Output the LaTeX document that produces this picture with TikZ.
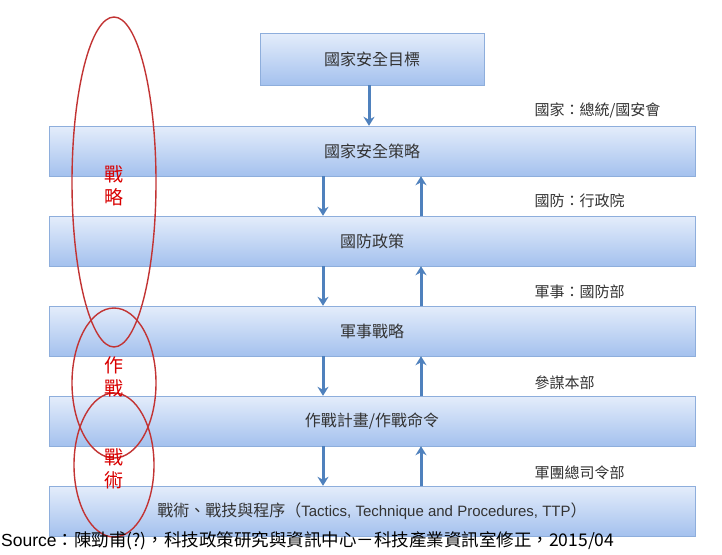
\documentclass[tikz,border=0pt]{standalone}
\usepackage{fontspec}
\usetikzlibrary{arrows.meta}
\setmainfont{Noto Sans CJK TC}
\newfontfamily\lat{Liberation Sans}
\definecolor{arrc}{HTML}{4F81BD}
\definecolor{topc}{HTML}{E4EDFB}
\definecolor{botc}{HTML}{A4C1EE}
\definecolor{brd}{HTML}{8EAEDC}
\begin{document}
\begin{tikzpicture}[x=1pt,y=-1pt,
  boxst/.style={draw=brd, top color=topc, bottom color=botc},
  arr/.style={draw=arrc, line width=3pt, -{Stealth[length=9pt,width=11pt]}},
  lab/.style={anchor=west, font=\fontsize{15}{16}\selectfont, text=black!80},
  red/.style={text=red!85!black, font=\fontsize{19}{22}\selectfont},
  ell/.style={draw=red!70!black!80, line width=1.4pt}]
\useasboundingbox (0,0) rectangle (722,554);
\fill[white] (0,0) rectangle (722,554);
\tikzset{bx/.style={boxst, font=\fontsize{16}{17}\selectfont, text=black!80}}
\node[bx, minimum width=224, minimum height=52] (t) at (372,59) {國家安全目標};
\node[bx, minimum width=646, minimum height=50] (b1) at (372,151) {國家安全策略};
\node[bx, minimum width=646, minimum height=50] (b2) at (372,241) {國防政策};
\node[bx, minimum width=646, minimum height=50] (b3) at (372,331) {軍事戰略};
\node[bx, minimum width=646, minimum height=50] (b4) at (372,421) {作戰計畫/作戰命令};
\node[bx, minimum width=646, minimum height=50] (b5) at (372,511) {戰術、戰技與程序（{\lat\fontsize{15}{16}\selectfont Tactics, Technique and Procedures, TTP}）};
\draw[arr] (t.south -| 369,0) -- (b1.north -| 369,0);
\foreach \a/\b in {b1/b2,b2/b3,b3/b4,b4/b5}{
  \draw[arr] (\a.south -| 323,0) -- (\b.north -| 323,0);
  \draw[arr] (\b.north -| 421,0) -- (\a.south -| 421,0);
}
\node[lab] (l1) at (531,110) {國家：總統/國安會};
\node[lab] (l2) at (531,201) {國防：行政院};
\node[lab] (l3) at (531,292) {軍事：國防部};
\node[lab] (l4) at (531,383) {參謀本部};
\node[lab] (l5) at (531,473) {軍團總司令部};
\draw[ell] (114,182) ellipse [x radius=42, y radius=165];
\draw[ell] (114,383) ellipse [x radius=42, y radius=75];
\draw[ell] (114,465) ellipse [x radius=40, y radius=72];
\node[red] (r1) at (114,186) {\shortstack{戰\\[2pt]略}};
\node[red] (r2) at (114,377) {\shortstack{作\\[2pt]戰}};
\node[red] (r3) at (114,469) {\shortstack{戰\\[2pt]術}};
\node[anchor=west, inner sep=1pt, font=\fontsize{17.5}{18}\selectfont] (src) at (0,541) {{\lat Source}：陳勁甫(?)，科技政策研究與資訊中心－科技產業資訊室修正，2015/04};
\end{tikzpicture}
\end{document}
